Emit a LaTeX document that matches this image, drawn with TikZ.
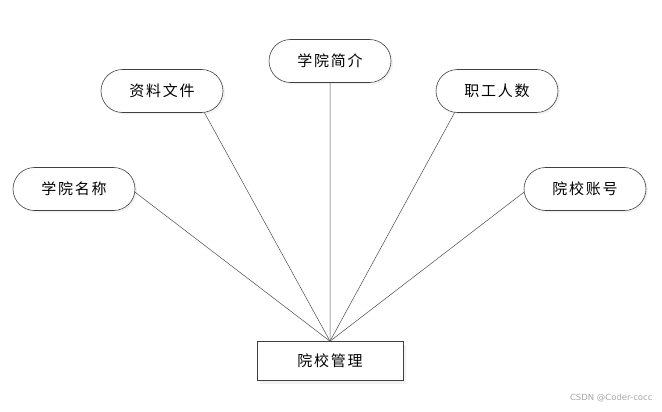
\documentclass[tikz,border=0pt]{standalone}
\usepackage{fontspec}
\newfontfamily\cjk{Noto Sans CJK SC}[LetterSpace=12]
\newfontfamily\wmfont{DejaVu Sans}
\usetikzlibrary{shapes.misc,shadows}

\begin{document}
\begin{tikzpicture}[x=1pt, y=-1pt,
		attrnode/.style={rounded rectangle, draw=black!75, fill=white, line width=0.6pt,
			minimum width=122pt, minimum height=43pt, inner sep=0pt,
			font=\cjk\fontsize{15}{18}\selectfont,
			drop shadow={shadow xshift=2pt, shadow yshift=-2pt, fill=black!10}},
		entnode/.style={rectangle, draw=black!75, fill=white, line width=0.6pt,
			minimum width=146pt, minimum height=39pt, inner sep=0pt,
			font=\cjk\fontsize{15}{18}\selectfont,
			drop shadow={shadow xshift=3pt, shadow yshift=-3pt, fill=black!10}},
		link/.style={draw=black!70, line width=0.5pt}]
		%%%%% START %%%%%
		
		\useasboundingbox (0, 0) rectangle (662, 412);
		
		\node[entnode] (mgr) at (330, 361) {院校管理};
		
		\node[attrnode] (name) at (74, 189) {学院名称};
		\node[attrnode] (files) at (162, 91) {资料文件};
		\node[attrnode] (intro) at (330, 61) {学院简介};
		\node[attrnode] (staff) at (497, 91) {职工人数};
		\node[attrnode] (acct) at (585, 189) {院校账号};
		
		\draw[link] (name.-3) -- (mgr.north);
		\draw[link] (files.-27) -- (mgr.north);
		\draw[link] (intro) -- (mgr.north);
		\draw[link] (staff.-153) -- (mgr.north);
		\draw[link] (acct.-177) -- (mgr.north);
		
		\node[anchor=east, text=black!35, font=\wmfont\fontsize{8.5}{10}\selectfont] (mark) at (656, 398) {CSDN @Coder-cocc};
		
		%%%%% END %%%%%
\end{tikzpicture}
\end{document}
